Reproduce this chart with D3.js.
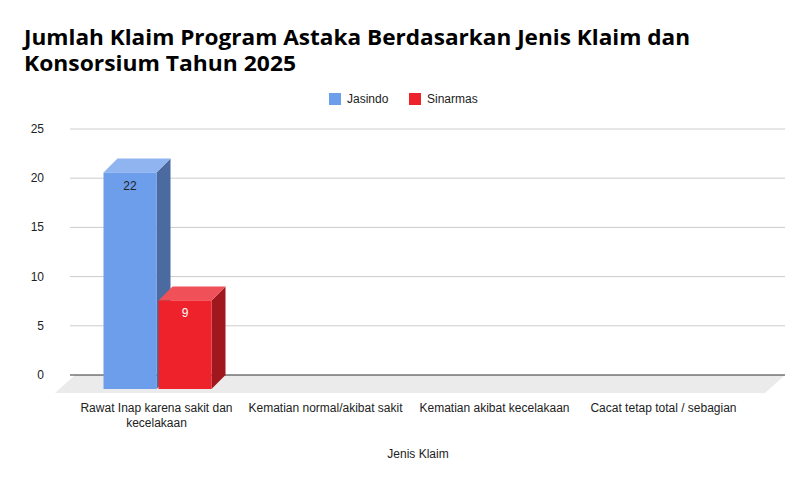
<!DOCTYPE html>
<html><head><meta charset="utf-8">
<script src="https://cdn.jsdelivr.net/npm/d3@7"></script>
<style>body{margin:0;background:#fff;font-family:Arial,"Liberation Sans",sans-serif}</style>
</head><body><svg id="c" width="808" height="485"></svg>
<script>
const categories=[["Rawat Inap karena sakit dan","kecelakaan"],["Kematian normal/akibat sakit"],["Kematian akibat kecelakaan"],["Cacat tetap total / sebagian"]];
const seriesNames=["Jasindo","Sinarmas"];
const jasindo=[22,0,0,0];
const sinarmas=[9,0,0,0];
const yTicks=[0,5,10,15,20,25];
const colors=[{f:"#6d9eeb",t:"#8fb4f0",s:"#4a6aa0"},{f:"#ee222b",t:"#f05058",s:"#a0171d"}];

const svg=d3.select("#c");
const D=14;
const x=d3.scaleBand().domain(d3.range(4)).range([72,748]);
const yg=d3.scaleLinear().domain([0,25]).range([375,129]);
const yb=d3.scaleLinear().domain([0,25]).range([389,143]);

svg.append("text").attr("x",24).attr("y",45).attr("font-size",21).attr("font-weight","bold").attr("font-family","'Open Sans',sans-serif").attr("textLength",666).attr("lengthAdjust","spacingAndGlyphs").text("Jumlah Klaim Program Astaka Berdasarkan Jenis Klaim dan");
svg.append("text").attr("x",24).attr("y",71).attr("font-size",21).attr("font-weight","bold").attr("font-family","'Open Sans',sans-serif").attr("textLength",272).attr("lengthAdjust","spacingAndGlyphs").text("Konsorsium Tahun 2025");

seriesNames.forEach((n,i)=>{const lx=[329,409][i];
 svg.append("rect").attr("x",lx).attr("y",93).attr("width",12).attr("height",12).attr("fill",colors[i].f);
 svg.append("text").attr("x",lx+18).attr("y",103).attr("font-size",12).attr("fill","#222").text(n);});

svg.append("path").attr("d","M75,375L785,375L765,393L55,393Z").attr("fill","#ebebeb");
yTicks.forEach(t=>{
 svg.append("line").attr("x1",70).attr("x2",785).attr("y1",yg(t)).attr("y2",yg(t)).attr("stroke",t===0?"#333":"#ccc");
 svg.append("text").attr("x",44).attr("y",yg(t)+4).attr("text-anchor","end").attr("font-size",12).attr("fill","#222").text(t);});

const bw=53;
[jasindo,sinarmas].forEach((vals,si)=>{
 vals.forEach((v,ci)=>{ if(!v) return;
  const cx=x(ci)+x.bandwidth()/2; const x0=si===0?cx-bw:cx+2; const x1=x0+bw;
  const yt=yb(v), y0=yb(0), c=colors[si];
  svg.append("path").attr("d",`M${x1},${y0}L${x1+D},${y0-D}L${x1+D},${yt-D}L${x1},${yt}Z`).attr("fill",c.s);
  svg.append("path").attr("d",`M${x0},${yt}L${x0+D},${yt-D}L${x1+D},${yt-D}L${x1},${yt}Z`).attr("fill",c.t);
  svg.append("rect").attr("x",x0).attr("y",yt).attr("width",bw).attr("height",y0-yt).attr("fill",c.f);
  svg.append("text").attr("x",(x0+x1)/2).attr("y",yt+17).attr("text-anchor","middle").attr("font-size",12).attr("fill",si===0?"#222":"#fff").text(v);
 });});

categories.forEach((lines,i)=>{
 const t=svg.append("text").attr("x",x(i)+x.bandwidth()/2).attr("y",412).attr("text-anchor","middle").attr("font-size",12).attr("fill","#222");
 lines.forEach((l,k)=>t.append("tspan").attr("x",x(i)+x.bandwidth()/2).attr("dy",k?15:0).text(l));});
svg.append("text").attr("x",418).attr("y",458).attr("text-anchor","middle").attr("font-size",12).attr("fill","#222").text("Jenis Klaim");
</script></body></html>
